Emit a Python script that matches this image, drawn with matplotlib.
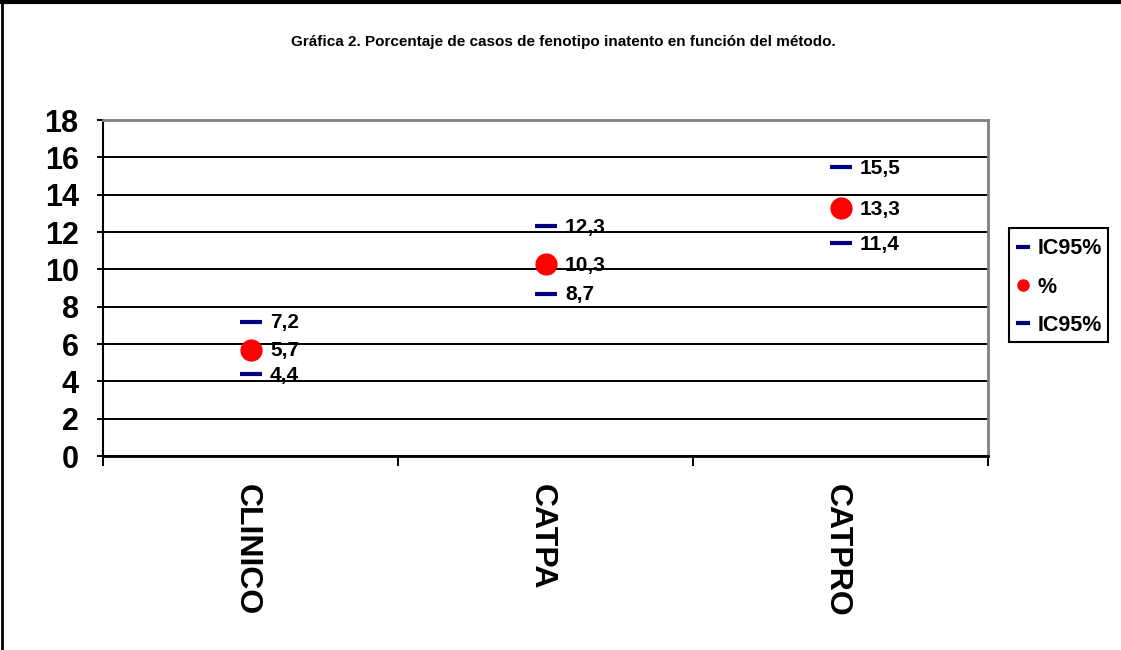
import matplotlib
matplotlib.use("Agg")
import matplotlib.pyplot as plt
from matplotlib.lines import Line2D
from matplotlib.patches import Rectangle

plt.rcParams["font.family"] = ["Liberation Sans", "DejaVu Sans"]
plt.rcParams["font.weight"] = "bold"

metodos = ["CLINICO", "CATPA", "CATPRO"]
ic_sup = [7.2, 12.3, 15.5]
porcentaje = [5.7, 10.3, 13.3]
ic_inf = [4.4, 8.7, 11.4]

titulo = "Gráfica 2. Porcentaje de casos de fenotipo inatento en función del método."

navy = "#000080"
W, H = 1121, 650

fig = plt.figure(figsize=(W / 100, H / 100), dpi=100)
fig.patch.set_facecolor("white")
ax = fig.add_axes([103 / W, 1 - 456 / H, (988 - 103) / W, (456 - 120) / H])

x = list(range(len(metodos)))

# limits of IC95% as short dashes, the percentage as a red dot
ax.plot(x, ic_sup, linestyle="none", marker="_", markersize=16, mew=3, color=navy, zorder=3)
ax.plot(x, porcentaje, linestyle="none", marker="o", markersize=15, color="#ff0000", mec="#ff0000", zorder=3)
ax.plot(x, ic_inf, linestyle="none", marker="_", markersize=16, mew=3, color=navy, zorder=3)

for serie in (ic_sup, porcentaje, ic_inf):
    for xi, v in zip(x, serie):
        ax.annotate(f"{v:.1f}".replace(".", ","), (xi, v), xytext=(14, -1),
                    textcoords="offset points", ha="left", va="center",
                    fontsize=15, fontweight="bold", color="black", zorder=4)

ax.set_xlim(-0.5, len(metodos) - 0.5)
ax.set_ylim(0, 18)
ax.set_yticks(range(0, 19, 2))
ax.yaxis.grid(True, color="black", linewidth=1.4, zorder=1)
ax.set_axisbelow(True)

ax.set_xticks(x)
ax.set_xticklabels(metodos, rotation=-90, rotation_mode="anchor", fontsize=23,
                   fontweight="bold", ha="left", va="center_baseline")
ax.set_xticks([i - 0.5 for i in range(len(metodos) + 1)], minor=True)
ax.tick_params(axis="x", which="major", length=0, pad=20)
ax.tick_params(axis="x", which="minor", length=7, width=1.4, color="black")
ax.tick_params(axis="y", length=4.5, width=1.4, pad=13, labelsize=22)
for lab in ax.get_yticklabels():
    lab.set_fontweight("bold")

ax.spines["left"].set_color("black")
ax.spines["left"].set_linewidth(1.5)
ax.spines["bottom"].set_color("black")
ax.spines["bottom"].set_linewidth(2)
ax.spines["top"].set_color("#808080")
ax.spines["top"].set_linewidth(2)
ax.spines["right"].set_color("#808080")
ax.spines["right"].set_linewidth(2)

fig.text(563 / W, 1 - 42 / H, titulo, ha="center", va="center", fontsize=11, fontweight="bold")

handles = [
    Line2D([], [], linestyle="none", marker="_", markersize=10, mew=3, color=navy),
    Line2D([], [], linestyle="none", marker="o", markersize=8, color="#ff0000"),
    Line2D([], [], linestyle="none", marker="_", markersize=10, mew=3, color=navy),
]
leg = fig.legend(handles, ["IC95%", "%", "IC95%"], loc="center",
                 bbox_to_anchor=(1059 / W, 1 - 287 / H), frameon=False,
                 prop={"size": 15.5, "weight": "bold"}, handlelength=0.65, handletextpad=0.35,
                 labelspacing=0.8, borderpad=0, borderaxespad=0)
fig.add_artist(Rectangle((1009 / W, 1 - 342 / H), 99 / W, 114 / H, transform=fig.transFigure,
                         fill=False, edgecolor="black", linewidth=1.5))

# frame of the sheet along the top and left edges
fig.add_artist(Line2D([0, 1], [1 - 2 / H, 1 - 2 / H], color="black", linewidth=3, transform=fig.transFigure))
fig.add_artist(Line2D([2 / W, 2 / W], [0, 1], color="black", linewidth=2, transform=fig.transFigure))

fig.savefig("out.png", dpi=100)
